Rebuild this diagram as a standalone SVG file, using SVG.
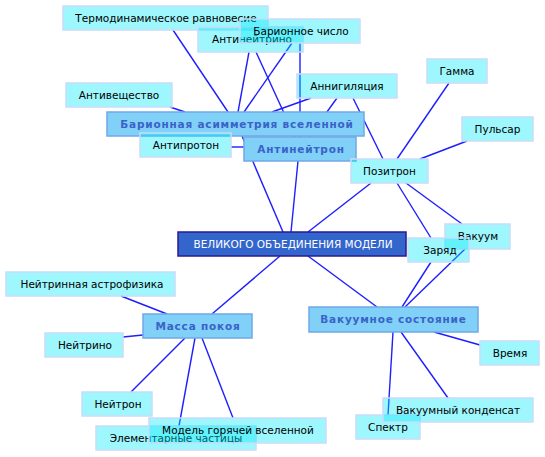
<svg xmlns="http://www.w3.org/2000/svg" width="545" height="457" viewBox="0 0 545 457">
<style>
.c line{stroke:#1e1eff;stroke-width:1.4}
.n rect{fill:#00eafa;fill-opacity:0.38;stroke:#c8dcfa;stroke-width:1.5}
.n text{font-family:"DejaVu Sans",sans-serif;font-size:10.5px;fill:#000;text-anchor:middle}
.m rect{fill:#80d0f8;stroke:#70a8e8;stroke-width:1.5}
.m text{font-family:"DejaVu Sans",sans-serif;font-size:10.5px;font-weight:bold;fill:#3a62c8;text-anchor:middle;letter-spacing:0.8px}
.r rect{fill:#3366cc;stroke:#2a1a90;stroke-width:1.5}
.r text{font-family:"DejaVu Sans",sans-serif;font-size:10.5px;fill:#fff;text-anchor:middle}
</style>
<rect width="545" height="457" fill="#fff"/>
<g id="connectors" class="c">
<line x1="173" y1="30" x2="228" y2="112"/>
<line x1="238" y1="112" x2="249" y2="52"/>
<line x1="244" y1="112" x2="292" y2="43"/>
<line x1="170" y1="107" x2="185" y2="112"/>
<line x1="311" y1="98" x2="272" y2="112"/>
<line x1="242" y1="136" x2="283" y2="232"/>
<line x1="256" y1="52" x2="295" y2="137"/>
<line x1="300" y1="43" x2="300" y2="137"/>
<line x1="337" y1="98" x2="309" y2="137"/>
<line x1="231" y1="147" x2="244" y2="147"/>
<line x1="298" y1="161" x2="291" y2="232"/>
<line x1="353" y1="98" x2="383" y2="159"/>
<line x1="449" y1="83" x2="397" y2="159"/>
<line x1="467" y1="141" x2="420" y2="159"/>
<line x1="371" y1="183" x2="308" y2="232"/>
<line x1="397" y1="183" x2="431" y2="238"/>
<line x1="406" y1="183" x2="462" y2="224"/>
<line x1="308" y1="256" x2="377" y2="307"/>
<line x1="431" y1="262" x2="402" y2="307"/>
<line x1="465" y1="249" x2="405" y2="307"/>
<line x1="434" y1="332" x2="480" y2="345"/>
<line x1="401" y1="332" x2="448" y2="398"/>
<line x1="393" y1="332" x2="388" y2="415"/>
<line x1="212" y1="314" x2="280" y2="256"/>
<line x1="121" y1="296" x2="167" y2="314"/>
<line x1="123" y1="337" x2="143" y2="335"/>
<line x1="185" y1="338" x2="131" y2="392"/>
<line x1="195" y1="338" x2="179" y2="426"/>
<line x1="202" y1="338" x2="233" y2="418"/>
</g>
<g id="n-termo" class="n"><rect x="63" y="6" width="205" height="24"/><text x="166" y="22">Термодинамическое равновесие</text></g>
<g id="n-antineutrino" class="n"><rect x="198" y="27" width="105" height="25"/><text x="252" y="43">Антинейтрино</text></g>
<g id="n-baryon-number" class="n"><rect x="240" y="19" width="120" height="24"/><text x="301" y="35">Барионное число</text></g>
<g id="n-antimatter" class="n"><rect x="66" y="83" width="106" height="24"/><text x="119" y="99">Антивещество</text></g>
<g id="n-asym" class="m"><rect x="107" y="112" width="257" height="24"/><text x="237" y="127.5">Барионная асимметрия вселенной</text></g>
<g id="n-antiproton" class="n"><rect x="140" y="133" width="91" height="24"/><text x="186" y="149">Антипротон</text></g>
<g id="n-antineutron" class="m"><rect x="244" y="137" width="112" height="24"/><text x="301" y="152.5">Антинейтрон</text></g>
<g id="n-annihilation" class="n"><rect x="297" y="74" width="100" height="24"/><text x="347" y="90">Аннигиляция</text></g>
<g id="n-gamma" class="n"><rect x="427" y="59" width="60" height="24"/><text x="457" y="75">Гамма</text></g>
<g id="n-pulsar" class="n"><rect x="462" y="117" width="71" height="24"/><text x="497.5" y="133">Пульсар</text></g>
<g id="n-positron" class="n"><rect x="351" y="159" width="77" height="24"/><text x="389.5" y="175">Позитрон</text></g>
<g id="n-root" class="r"><rect x="178" y="232" width="228" height="24"/><text x="293" y="248">ВЕЛИКОГО ОБЪЕДИНЕНИЯ МОДЕЛИ</text></g>
<g id="n-vacuum" class="n"><rect x="445" y="224" width="65" height="25"/><text x="478" y="240">Вакуум</text></g>
<g id="n-charge" class="n"><rect x="408" y="238" width="61" height="24"/><text x="440" y="254">Заряд</text></g>
<g id="n-nastro" class="n"><rect x="6" y="272" width="169" height="24"/><text x="92" y="288">Нейтринная астрофизика</text></g>
<g id="n-mass" class="m"><rect x="143" y="314" width="109" height="24"/><text x="198" y="329.5">Масса покоя</text></g>
<g id="n-neutrino" class="n"><rect x="45" y="333" width="78" height="24"/><text x="85" y="349">Нейтрино</text></g>
<g id="n-neutron" class="n"><rect x="82" y="392" width="70" height="24"/><text x="118" y="408">Нейтрон</text></g>
<g id="n-elementary" class="n"><rect x="96" y="426" width="160" height="24"/><text x="176" y="442">Элементарные частицы</text></g>
<g id="n-hotmodel" class="n"><rect x="149" y="418" width="177" height="25"/><text x="238" y="434">Модель горячей вселенной</text></g>
<g id="n-vacstate" class="m"><rect x="309" y="307" width="169" height="25"/><text x="393.5" y="323">Вакуумное состояние</text></g>
<g id="n-time" class="n"><rect x="480" y="341" width="59" height="24"/><text x="510" y="357">Время</text></g>
<g id="n-spectrum" class="n"><rect x="356" y="415" width="64" height="24"/><text x="388" y="431">Спектр</text></g>
<g id="n-condensate" class="n"><rect x="383" y="398" width="150" height="24"/><text x="458" y="414">Вакуумный конденсат</text></g>
</svg>
